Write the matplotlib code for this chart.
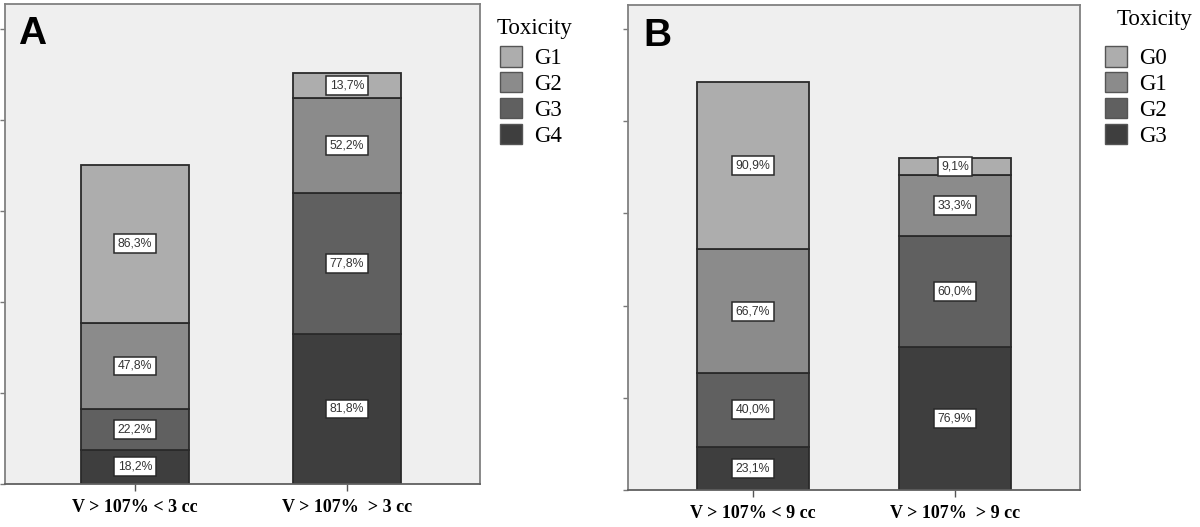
import matplotlib
matplotlib.use("Agg")
import matplotlib.pyplot as plt
from matplotlib.patches import Patch

# ---------------- data ----------------
cats_A = ["V > 107% < 3 cc", "V > 107%  > 3 cc"]
grades_A = ["G4", "G3", "G2", "G1"]          # bottom -> top
G4_A = [3.75, 16.47]
G3_A = [4.45, 15.51]
G2_A = [9.52, 10.40]
G1_A = [17.28, 2.76]
lab_G4_A = ["18,2%", "81,8%"]
lab_G3_A = ["22,2%", "77,8%"]
lab_G2_A = ["47,8%", "52,2%"]
lab_G1_A = ["86,3%", "13,7%"]

cats_B = ["V > 107% < 9 cc", "V > 107%  > 9 cc"]
grades_B = ["G3", "G2", "G1", "G0"]          # bottom -> top
G3_B = [4.67, 15.51]
G2_B = [8.03, 12.04]
G1_B = [13.39, 6.57]
G0_B = [18.14, 1.90]
lab_G3_B = ["23,1%", "76,9%"]
lab_G2_B = ["40,0%", "60,0%"]
lab_G1_B = ["66,7%", "33,3%"]
lab_G0_B = ["90,9%", "9,1%"]

yticks = [0, 10, 20, 30, 40, 50]

# ---------------- style ----------------
shades = ["#3e3e3e", "#606060", "#8b8b8b", "#adadad"]   # dark (bottom) -> light (top)
bg = "#efefef"
frame = "#808080"

fig = plt.figure(figsize=(12, 5.27), dpi=100)


def panel(rect, cats, series, labels, grades, width, xlim, ylim, letter, letter_xy,
          title_xy, leg_xy):
    ax = fig.add_axes(rect)
    ax.set_facecolor(bg)
    x = list(range(len(cats)))
    bottom = [0.0] * len(cats)
    for vals, labs, col in zip(series, labels, shades):
        ax.bar(x, vals, width=width, bottom=bottom, color=col,
               edgecolor="#2a2a2a", linewidth=1.3, zorder=2)
        for xi, v, b, t in zip(x, vals, bottom, labs):
            ax.text(xi, b + v / 2, t, ha="center", va="center", fontsize=8.8,
                    family="Liberation Sans", color="#333333", zorder=4,
                    bbox=dict(boxstyle="square,pad=0.28", fc="white",
                              ec="#2a2a2a", lw=1.1))
        bottom = [b + v for b, v in zip(bottom, vals)]
    ax.set_xlim(*xlim)
    ax.set_ylim(*ylim)
    ax.set_xticks(x)
    ax.set_xticklabels(cats, fontsize=13, family="Liberation Serif",
                       fontweight="bold")
    ax.set_yticks(yticks)
    ax.set_yticklabels([])
    ax.tick_params(axis="x", length=5, width=1, color="#555555", pad=6)
    ax.tick_params(axis="y", length=3.5, width=1, color="#777777")
    for s in ax.spines.values():
        s.set_color(frame)
        s.set_linewidth(1.3)
    ax.spines["bottom"].set_color("#606060")
    ax.text(letter_xy[0], letter_xy[1], letter, transform=ax.transAxes,
            fontsize=28, fontweight="bold", family="Liberation Sans",
            ha="left", va="top")
    # legend
    fig.text(title_xy[0], title_xy[1], "Toxicity", fontsize=16.5,
             family="Liberation Serif", ha="left", va="top")
    handles = [Patch(facecolor=c, edgecolor="#555555", linewidth=1.0, label=g)
               for g, c in zip(grades[::-1], shades[::-1])]
    fig.legend(handles=handles, loc="upper left", bbox_to_anchor=leg_xy,
               frameon=False, prop={"family": "Liberation Serif", "size": 16.5},
               handlelength=0.98, handleheight=1.0, handletextpad=0.5,
               labelspacing=0.12, borderpad=0, borderaxespad=0)
    return ax


W, H = 1200, 527
panel([5 / W, 1 - 484 / H, 475 / W, 480 / H], cats_A,
      [G4_A, G3_A, G2_A, G1_A], [lab_G4_A, lab_G3_A, lab_G2_A, lab_G1_A],
      grades_A, 0.505, (-0.613, 1.627), (0, 52.7), "A", (0.027, 0.975),
      (497 / W, 1 - 18 / H), (500 / W, 1 - 46 / H))
panel([628 / W, 1 - 490 / H, 452 / W, 485 / H], cats_B,
      [G3_B, G2_B, G1_B, G0_B], [lab_G3_B, lab_G2_B, lab_G1_B, lab_G0_B],
      grades_B, 0.554, (-0.619, 1.619), (0, 52.6), "B", (0.033, 0.973),
      (1117 / W, 1 - 9 / H), (1105 / W, 1 - 46 / H))

fig.savefig("out.png", dpi=100)
